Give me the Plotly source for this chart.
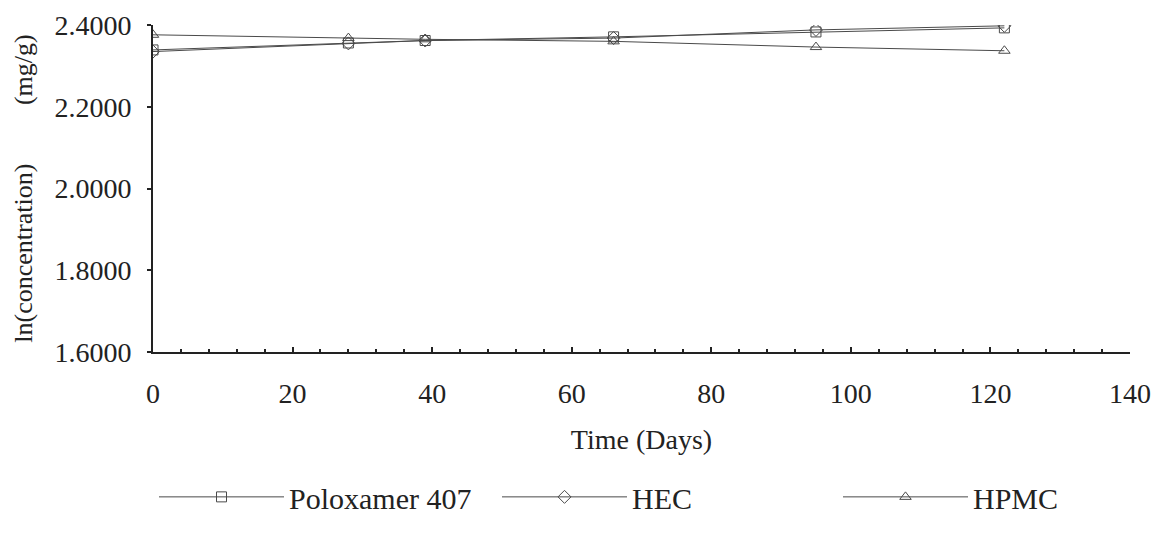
import plotly.graph_objects as go

days = [0, 28, 39, 66, 95, 122]
poloxamer = [2.339, 2.356, 2.362, 2.371, 2.383, 2.393]
hec = [2.335, 2.355, 2.362, 2.368, 2.388, 2.398]
hpmc = [2.376, 2.368, 2.365, 2.360, 2.346, 2.337]

x_ticks = [0, 20, 40, 60, 80, 100, 120, 140]
y_ticks = [1.6, 1.8, 2.0, 2.2, 2.4]

FONT = "Liberation Serif, Times New Roman, serif"
LINE = "#4a4a4a"
FS = 28

fig = go.Figure()
series = [
    ("Poloxamer 407", poloxamer, "square-open", "legend"),
    ("HEC", hec, "diamond-open", "legend2"),
    ("HPMC", hpmc, "triangle-up-open", "legend3"),
]
for name, vals, sym, lg in series:
    fig.add_trace(go.Scatter(
        x=days, y=vals, name=name, mode="lines+markers",
        line=dict(color=LINE, width=1),
        marker=dict(symbol=sym, size=10, color=LINE, line=dict(width=1, color=LINE)),
        legend=lg,
    ))

PW = 977.0
def lx(screen_x):
    return (screen_x - 8 - 145) / PW

legend_common = dict(orientation="h", yanchor="middle", xanchor="left",
                     font=dict(family=FONT, size=30, color="#222"),
                     bgcolor="rgba(0,0,0,0)", itemwidth=125, y=-0.443)
fig.update_layout(
    width=1160, height=533, showlegend=True,
    margin=dict(l=145, r=38, t=17, b=189, autoexpand=False),
    paper_bgcolor="white", plot_bgcolor="white",
    font=dict(family=FONT, size=FS, color="#222"),
    legend=dict(**legend_common, x=lx(154)),
    legend2=dict(**legend_common, x=lx(497)),
    legend3=dict(**legend_common, x=lx(838)),
    xaxis=dict(range=[0, 140], tickvals=x_ticks, ticktext=[str(v) for v in x_ticks],
               showgrid=False, zeroline=False, showline=True, linecolor="#222", linewidth=2,
               ticks="inside", ticklen=5, tickcolor="#222", tickwidth=1.5,
               minor=dict(dtick=4, ticks="inside", ticklen=3, tickcolor="#222"),
               tickfont=dict(family=FONT, size=FS), ticklabelstandoff=15,
               title=dict(text="Time (Days)", font=dict(family=FONT, size=FS), standoff=22)),
    yaxis=dict(range=[1.6, 2.4], tickvals=y_ticks, ticktext=[f"{v:.4f}" for v in y_ticks],
               showgrid=False, zeroline=False, showline=True, linecolor="#222", linewidth=2,
               ticks="outside", ticklen=4, tickcolor="#222", tickwidth=1.5,
               tickfont=dict(family=FONT, size=FS), ticklabelstandoff=10,
               title=dict(text="ln(concentration)" + "&nbsp;" * 9 + "(mg/g)",
                          font=dict(family=FONT, size=26), standoff=14)),
)
fig.write_html("out.html")
